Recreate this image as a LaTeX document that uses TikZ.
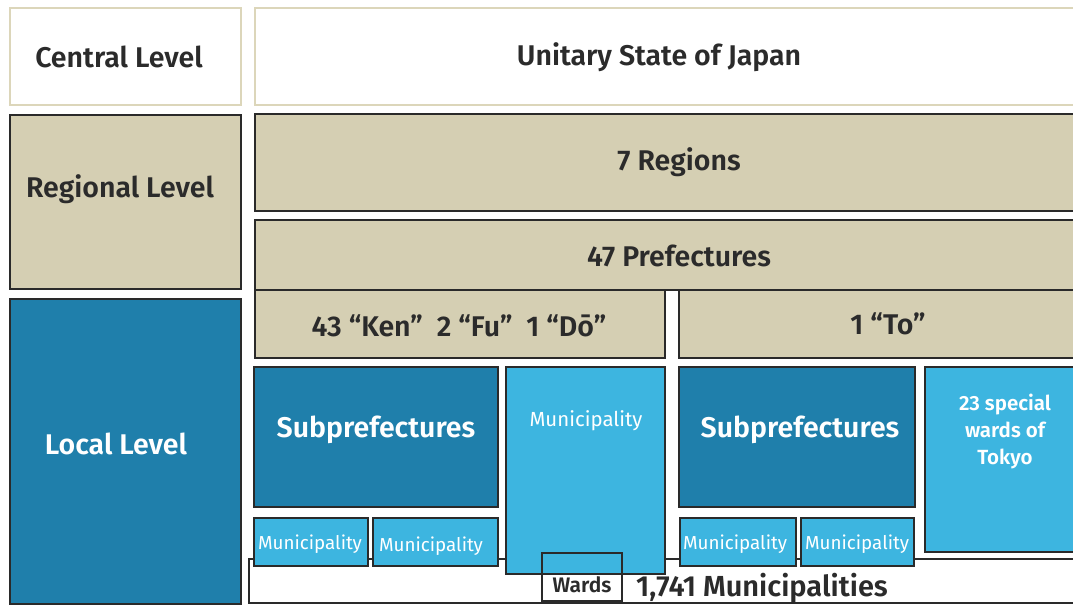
\documentclass[tikz,border=0pt]{standalone}
\usepackage{fontspec}
\setmainfont{Fira Sans}[BoldFont={Fira Sans SemiBold}]
\definecolor{tan}{HTML}{D5CFB3}
\definecolor{tanedge}{HTML}{DCD6BA}
\definecolor{darkblue}{HTML}{1F7FAB}
\definecolor{lightblue}{HTML}{3DB5E0}
\definecolor{edge}{HTML}{2A2A2A}
\definecolor{ink}{HTML}{2B2B2B}
\newcommand\bx[6]{\node[#6, minimum width={(#4)-(#2)}, minimum height={(#5)-(#3)}] (#1) at ({#2},{#3}) {};}
\begin{document}
\begin{tikzpicture}[x=1pt,y=-1pt,
  box/.style={draw=edge, line width=1.4pt, anchor=north west, inner sep=0pt, outer sep=0pt, rectangle},
  lightbox/.style={box, draw=tanedge, fill=white},
  tanbox/.style={box, fill=tan},
  dbox/.style={box, fill=darkblue},
  lbox/.style={box, fill=lightblue},
  wbox/.style={box, fill=white},
  txt/.style={inner sep=0pt, yshift=-2pt},
  head/.style={txt, font=\bfseries\fontsize{28.5}{32}\selectfont, text=ink},
  headw/.style={head, text=white},
  muni/.style={txt, font=\fontsize{18.8}{22}\selectfont, text=white},
  small/.style={txt, font=\bfseries\fontsize{20.5}{27}\selectfont, text=white, align=center},
]
\useasboundingbox (0,0) rectangle (1073,605);
\clip (0,0) rectangle (1073,605);
% top rows
\bx{central}{10}{8}{241}{105}{lightbox}
\bx{unitary}{255}{8}{1090}{105}{lightbox}
\bx{regional}{10}{115}{241}{289}{tanbox}
\bx{regions}{255}{114}{1090}{211}{tanbox}
\bx{prefs}{255}{220}{1090}{290}{tanbox}
\bx{ken}{255}{290}{665}{358}{tanbox}
\bx{to}{679}{290}{1090}{358}{tanbox}
\bx{local}{10}{299}{241}{604}{dbox}
% bottom white container
\bx{all}{249}{559}{1090}{603}{wbox}
% left prefecture side
\bx{subL}{254}{367}{498}{507}{dbox}
\bx{m1}{254}{518}{368}{566}{lbox}
\bx{m2}{373}{518}{498}{566}{lbox}
\bx{mt}{506}{367}{665}{574}{lbox}
\bx{wards}{542}{553}{622}{601}{box}
% Tokyo side
\bx{subR}{679}{367}{915}{507}{dbox}
\bx{m3}{680}{518}{796}{566}{lbox}
\bx{m4}{801}{518}{914}{566}{lbox}
\bx{tokyo}{925}{367}{1090}{552}{lbox}
% texts
\node[head] (tcentral) at (119,55) {Central Level};
\node[head] (tunitary) at (659,55) {Unitary State of Japan};
\node[head] (tregional) at (120,187) {Regional Level};
\node[head] (tregions) at (679,160) {7 Regions};
\node[head] (tprefs) at (679,254) {47 Prefectures};
\node[head] (tken) at (459,324) {43 “Ken”\ \ 2 “Fu”\ \ 1 “Dō”};
\node[head] (tto) at (888,322) {1 “To”};
\node[headw] (tlocal) at (116,442) {Local Level};
\node[headw] (tsubL) at (376,428) {Subprefectures};
\node[headw] (tsubR) at (800,428) {Subprefectures};
\node[muni, font=\fontsize{20.4}{24}\selectfont] (tmt) at (586,419) {Municipality};
\node[muni] (tm1) at (310,542) {Municipality};
\node[muni] (tm2) at (431,544) {Municipality};
\node[muni] (tm3) at (735,542) {Municipality};
\node[muni] (tm4) at (857,542) {Municipality};
\node[small] (ttokyo) at (1005,430) {23 special\\wards of\\Tokyo};
\node[txt, font=\bfseries\fontsize{21}{24}\selectfont, text=ink] (twards) at (582,583) {Wards};
\node[inner sep=0pt, text=ink, font=\bfseries\fontsize{29}{32}\selectfont] (tall) at (762,588) {1,741 Municipalities};
\end{tikzpicture}
\end{document}
